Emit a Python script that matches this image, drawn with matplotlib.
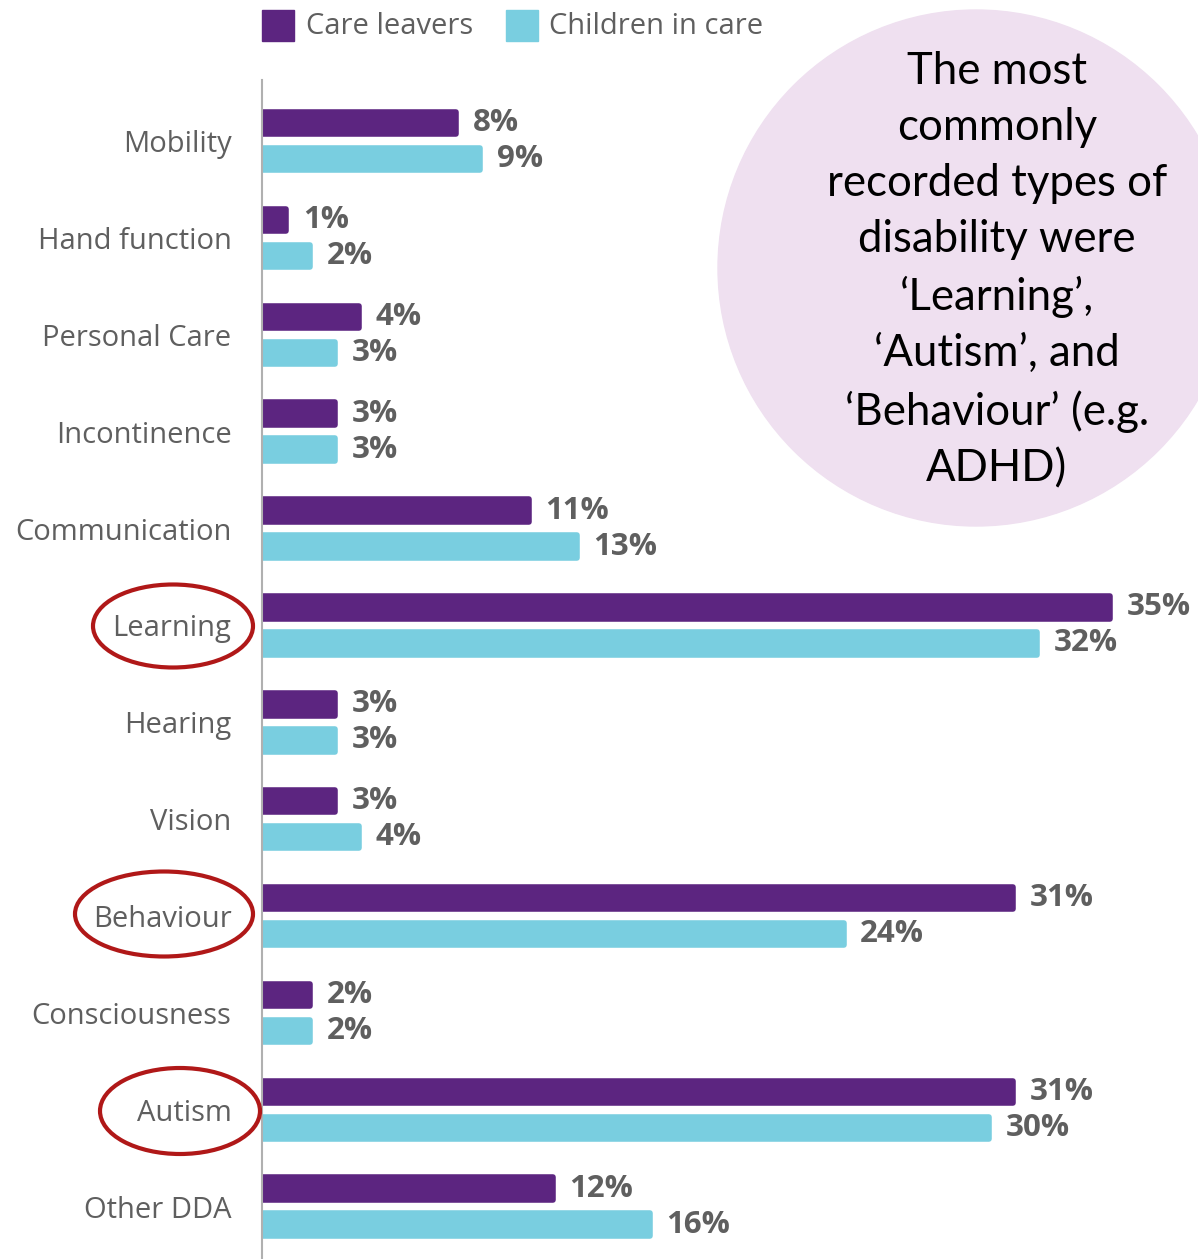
import matplotlib.pyplot as plt
from matplotlib.patches import Ellipse

# data
categories = ['Mobility', 'Hand function', 'Personal Care', 'Incontinence',
              'Communication', 'Learning', 'Hearing', 'Vision', 'Behaviour',
              'Consciousness', 'Autism', 'Other DDA']
care_leavers = [8, 1, 4, 3, 11, 35, 3, 3, 31, 2, 31, 12]
children_in_care = [9, 2, 3, 3, 13, 32, 3, 4, 24, 2, 30, 16]
series_names = ['Care leavers', 'Children in care']

PURPLE = '#5c2580'
CYAN = '#79cee0'
GREY = '#5f5f5f'

W, H = 1198, 1259
fig = plt.figure(figsize=(W / 100, H / 100), dpi=100)

# axes box in pixels: left 262, top 80, to right/bottom edge
ax = fig.add_axes([262 / W, 0, 1 - 262 / W, (H - 80) / H])

y = list(range(len(categories)))
off = 0.186
h = 0.232
bars1 = ax.barh([v - off for v in y], care_leavers, height=h, color=PURPLE,
                edgecolor=PURPLE, linewidth=4)
bars2 = ax.barh([v + off for v in y], children_in_care, height=h, color=CYAN,
                edgecolor=CYAN, linewidth=4)
for p in list(bars1) + list(bars2):
    p.set_joinstyle('round')

for bars, vals in ((bars1, care_leavers), (bars2, children_in_care)):
    for p, v in zip(bars, vals):
        ax.annotate(f'{v}%', (v, p.get_y() + p.get_height() / 2),
                    xytext=(12, 0), textcoords='offset points',
                    ha='left', va='center', fontsize=22.5, fontweight='bold',
                    color=GREY, family='Open Sans')

ax.set_xlim(0, 38.63)
ax.set_ylim(11.54, -0.63)
ax.set_yticks(y)
ax.set_yticklabels(categories, fontsize=21, color=GREY, family='Open Sans')
ax.tick_params(axis='y', length=0, pad=22)
ax.set_xticks([])
for s in ['top', 'right', 'bottom']:
    ax.spines[s].set_visible(False)
ax.spines['left'].set_color('#b0b0b0')
ax.spines['left'].set_linewidth(1.5)
ax.spines['left'].set_zorder(5)

# legend drawn by hand in figure pixels
def fx(px):
    return px / W

def fy(py):
    return 1 - py / H

fig.patches.append(plt.Rectangle((fx(262), fy(41)), fx(32), 31 / H,
                                 transform=fig.transFigure, color=PURPLE))
fig.text(fx(306), fy(27), series_names[0], fontsize=21, color=GREY,
         va='center', ha='left', family='Open Sans')
fig.patches.append(plt.Rectangle((fx(506), fy(41)), fx(32), 31 / H,
                                 transform=fig.transFigure, color=CYAN))
fig.text(fx(549), fy(27), series_names[1], fontsize=21, color=GREY,
         va='center', ha='left', family='Open Sans')

# pink call-out bubble
fig.patches.append(Ellipse((fx(976), fy(268)), 2 * 258 / W, 2 * 258 / H,
                           transform=fig.transFigure, color='#efe0f0',
                           zorder=0))
note = ("The most\ncommonly\nrecorded types of\ndisability were\n"
        "\u2018Learning\u2019,\n\u2018Autism\u2019, and\n"
        "\u2018Behaviour\u2019 (e.g.\nADHD)")
fig.text(fx(997), fy(270), note, fontsize=31.5, color='black', ha='center',
         va='center', linespacing=1.46, family='Lato')

# red rings round the highlighted categories
for cx, cy, ew, eh in [(173, 626, 160, 83), (164, 914, 178, 85),
                       (180, 1111, 160, 86)]:
    fig.patches.append(Ellipse((fx(cx), fy(cy)), ew / W, eh / H,
                               transform=fig.transFigure, fill=False,
                               edgecolor='#b01818', linewidth=3, zorder=6))

fig.savefig('out.png', dpi=100)
